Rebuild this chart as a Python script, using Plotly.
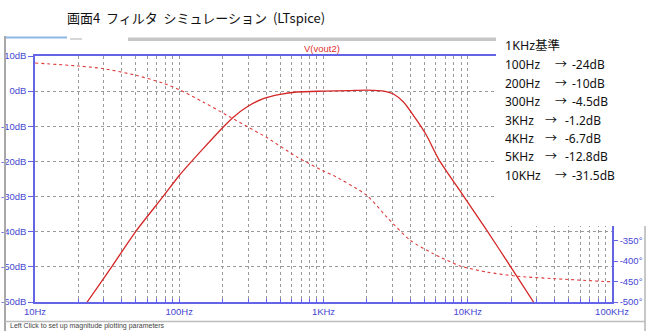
import plotly.graph_objects as go

# ---------------- data ----------------
mag_freq = [10, 15, 23, 34, 50, 77.6, 100, 147, 202, 237, 294, 383, 500, 653,
            1000, 1500, 2000, 2673, 3055, 3584, 4199, 5150, 6295, 9330, 13560, 19700,
            28570, 40000, 100000]
mag_db = [-82, -71, -60, -50, -39.9, -29.9, -24.0, -16.3, -10.2, -7.4, -4.5, -2.1,
          -0.9, -0.25, 0, 0.15, 0.3, -0.05, -0.8, -3.1, -6.9, -12.4, -19.4, -29.8, -39.6,
          -49.8, -60, -69, -93]

ph_freq = [10, 20, 30, 50, 77, 100, 146, 225, 294, 405, 653, 1000, 1166, 1995, 2750,
           3990, 5760, 8850, 13550, 21900, 39300, 100000]
ph_deg = [83, 75.6, 69, 53, 34, 18, -12, -49, -71.5, -99, -146, -180.5, -191, -240,
          -293, -349.5, -382, -412, -427, -437, -443, -451]

db_ticks = [10, 0, -10, -20, -30, -40, -50, -60]
db_labels = ["10dB", "0dB", "-10dB", "-20dB", "-30dB", "-40dB", "-50dB", "-60dB"]
deg_ticks = [-350, -400, -450, -500]
deg_labels = ["-350°", "-400°", "-450°", "-500°"]
decades = [10, 100, 1000, 10000, 100000]
decade_labels = ["10Hz", "100Hz", "1KHz", "10KHz", "100KHz"]

title_text = "画面4\u00a0\u00a0フィルタ\u00a0\u00a0シミュレーション\u00a0\u00a0(LTspice)"
trace_name = "V(vout2)"
note_head = "1KHz基準"
note_freq = ["100Hz", "200Hz", "300Hz", "3KHz", "4KHz", "5KHz", "10KHz"]
note_val = ["-24dB", "-10dB", "-4.5dB", "-1.2dB", "-6.7dB", "-12.8dB", "-31.5dB"]
status_text = "Left Click to set up magnitude plotting parameters"

# ---------------- layout helpers ----------------
W, H = 651, 331
ML, MR, MT, MB = 35, 39, 56, 29
PW = W - ML - MR
PHt = H - MT - MB
BOT = H - MB


def PX(x):
    return (x - ML) / PW


def PY(y):
    return (BOT - y) / PHt


BLUE_LINE = "#6464e6"
BLUE_TXT = "#4646d2"
GRID = "#9a9a9a"
RED = "#d42626"

# grid / tick positions: every 1..9 per decade
xt = []
xl = []
for d in decades[:-1]:
    for k in range(1, 10):
        xt.append(d * k)
        xl.append(decade_labels[decades.index(d)] if k == 1 else "")
xt.append(decades[-1])
xl.append(decade_labels[-1])

fig = go.Figure()
fig.add_trace(go.Scatter(x=mag_freq, y=mag_db, mode="lines",
                         line=dict(color=RED, width=1.3, shape="spline", smoothing=0.7),
                         showlegend=False, hoverinfo="skip"))
fig.add_trace(go.Scatter(x=ph_freq, y=ph_deg, mode="lines", yaxis="y2",
                         line=dict(color="#e03c3c", width=1.1, dash="dot",
                                   shape="spline", smoothing=0.7),
                         showlegend=False, hoverinfo="skip"))

axfont = dict(family="Liberation Sans, Arial, sans-serif", size=9.5, color=BLUE_TXT)

fig.update_layout(
    width=W, height=H,
    margin=dict(l=ML, r=MR, t=MT, b=MB, autoexpand=False),
    paper_bgcolor="white", plot_bgcolor="white",
    xaxis=dict(type="log", range=[1, 5], tickvals=xt, ticktext=xl,
               showgrid=True, gridcolor=GRID, griddash="dot", gridwidth=1,
               showline=True, linecolor=BLUE_LINE, linewidth=1.5, mirror=True,
               ticks="inside", ticklen=3, tickcolor=BLUE_LINE,
               tickfont=axfont, zeroline=False, fixedrange=True),
    yaxis=dict(range=[-60, 10], tickvals=db_ticks, ticktext=db_labels,
               showgrid=True, gridcolor=GRID, griddash="dot", gridwidth=1,
               showline=True, linecolor=BLUE_LINE, linewidth=1.5,
               ticks="outside", ticklen=5, tickcolor=BLUE_LINE,
               tickfont=axfont, zeroline=False, fixedrange=True),
    yaxis2=dict(range=[-500, 100], overlaying="y", side="right",
                tickvals=deg_ticks, ticktext=deg_labels, showgrid=False,
                showline=True, linecolor=BLUE_LINE, linewidth=1.5,
                ticks="outside", ticklen=4, tickcolor=BLUE_LINE,
                tickfont=axfont, zeroline=False, fixedrange=True),
)

shapes = []
# window frame pieces
shapes.append(dict(type="rect", xref="paper", yref="paper", x0=PX(128), x1=PX(496),
                   y0=PY(41), y1=PY(37.5), fillcolor="#c6c6c6", line=dict(width=0),
                   layer="above"))
shapes.append(dict(type="rect", xref="paper", yref="paper", x0=PX(5), x1=PX(67),
                   y0=PY(38.5), y1=PY(36.5), fillcolor="#8db8e4", line=dict(width=0),
                   layer="above"))
shapes.append(dict(type="line", xref="paper", yref="paper", x0=PX(70), x1=PX(82),
                   y0=PY(39), y1=PY(39), line=dict(color="#b0b0b0", width=1),
                   layer="above"))
# pasted white text box (covers the upper right part of the plot)
shapes.append(dict(type="rect", xref="paper", yref="paper", x0=PX(496), x1=PX(660),
                   y0=PY(226), y1=PY(30), fillcolor="white", line=dict(width=0),
                   layer="above"))
# clip right edge of window
shapes.append(dict(type="rect", xref="paper", yref="paper", x0=PX(645.5), x1=PX(660),
                   y0=PY(335), y1=PY(226), fillcolor="white", line=dict(width=0),
                   layer="above"))
shapes.append(dict(type="line", xref="paper", yref="paper", x0=PX(645), x1=PX(645),
                   y0=PY(331), y1=PY(226), line=dict(color="#b4b4b4", width=1.5),
                   layer="above"))
shapes.append(dict(type="line", xref="paper", yref="paper", x0=PX(5), x1=PX(5),
                   y0=PY(331), y1=PY(36), line=dict(color="#a8a8a8", width=2),
                   layer="above"))
shapes.append(dict(type="line", xref="paper", yref="paper", x0=PX(5), x1=PX(645),
                   y0=PY(321.5), y1=PY(321.5), line=dict(color="#bdbdbd", width=1.5),
                   layer="above"))
fig.update_layout(shapes=shapes)

ann = []
ann.append(dict(text=title_text, xref="paper", yref="paper", x=PX(65), y=PY(17),
                xanchor="left", yanchor="middle", showarrow=False,
                font=dict(family="Noto Sans CJK JP", size=13, color="#111")))
ann.append(dict(text=trace_name, xref="paper", yref="paper", x=PX(322), y=PY(48),
                xanchor="center", yanchor="middle", showarrow=False,
                font=dict(family="Liberation Sans, Arial", size=9.5, color="#e03030")))
nfont = dict(family="Noto Sans, Noto Sans CJK JP", size=12, color="#111")
ann.append(dict(text=note_head, xref="paper", yref="paper", x=PX(503), y=PY(46),
                xanchor="left", yanchor="middle", showarrow=False,
                font=dict(family="Noto Sans, Noto Sans CJK JP", size=12.5, color="#111")))
line_y = [64.5, 83, 101.5, 120, 138, 156.5, 175]
for i, (f, v) in enumerate(zip(note_freq, note_val)):
    longw = len(f) == 5
    ax = 552.5 if longw else 542.5
    vx = 569.5 if longw else 562.5
    yy = PY(line_y[i])
    ann.append(dict(text=f, xref="paper", yref="paper", x=PX(503), y=yy,
                    xanchor="left", yanchor="middle", showarrow=False, font=nfont))
    ann.append(dict(text="→", xref="paper", yref="paper", x=PX(ax), y=yy,
                    xanchor="left", yanchor="middle", showarrow=False, font=nfont))
    ann.append(dict(text=v, xref="paper", yref="paper", x=PX(vx), y=yy,
                    xanchor="left", yanchor="middle", showarrow=False, font=nfont))
ann.append(dict(text=status_text, xref="paper", yref="paper", x=PX(9), y=PY(331),
                xanchor="left", yanchor="bottom", showarrow=False, borderpad=0,
                font=dict(family="Liberation Sans, Arial", size=7, color="#444")))
fig.update_layout(annotations=ann)

fig.write_html("out.html")
